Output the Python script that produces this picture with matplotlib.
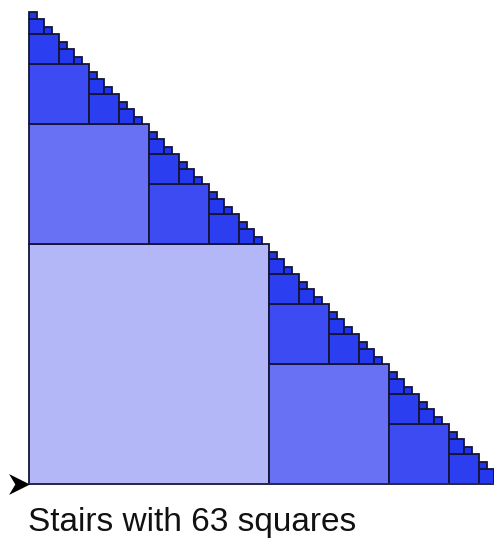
import matplotlib
matplotlib.use("Agg")
import matplotlib.pyplot as plt
from matplotlib.patches import Rectangle
from matplotlib.path import Path

# Data
levels = [0, 1, 2, 3, 4, 5]
squares_per_level = [1, 2, 4, 8, 16, 32]
level_colors = ["#b3b6f7", "#6870f3", "#3d4cf2", "#2b3ff0", "#2439ee", "#1f35ec"]
title_text = "Stairs with 63 squares"

# recursive staircase: square in corner of triangle, two sub-triangles
squares = []
def build(x0, y0, side, level):
    if level > levels[-1]:
        return
    half = side / 2
    squares.append((x0, y0, half, level))
    build(x0, y0 + half, half, level + 1)
    build(x0 + half, y0, half, level + 1)

build(0.0, 0.0, 1.0, levels[0])

W, H = 494, 540
fig = plt.figure(figsize=(W / 100, H / 100), dpi=100)
ax = fig.add_axes([0, 0, 1, 1])
ox, oy, unit = 29, 484, 480
ax.set_xlim(-ox / unit, (W - ox) / unit)
ax.set_ylim(-(H - oy) / unit, oy / unit)
ax.axis("off")

edge = "#14143a"
for (x, y, s, lev) in squares:
    ax.add_patch(Rectangle((x, y), s, s, facecolor=level_colors[lev],
                           edgecolor=edge, linewidth=1.3, zorder=2))

# base line
ax.plot([0, 1.1], [0, 0], color="#2a2a50", linewidth=1.4, zorder=3,
        solid_capstyle="butt")

# arrowhead
arrow = Path([(-1, 1), (1, 0), (-1, -1), (-0.4, 0), (-1, 1)],
             [Path.MOVETO, Path.LINETO, Path.LINETO, Path.LINETO, Path.CLOSEPOLY])
ax.plot([-10 / unit], [0], marker=arrow, markersize=15, color="black",
        markeredgewidth=0, zorder=4, clip_on=False)

ax.text(-1 / unit, -38 / unit, title_text, fontsize=24, family="Liberation Sans",
        color="#111111", ha="left", va="center")

fig.savefig("out.png", dpi=100)
